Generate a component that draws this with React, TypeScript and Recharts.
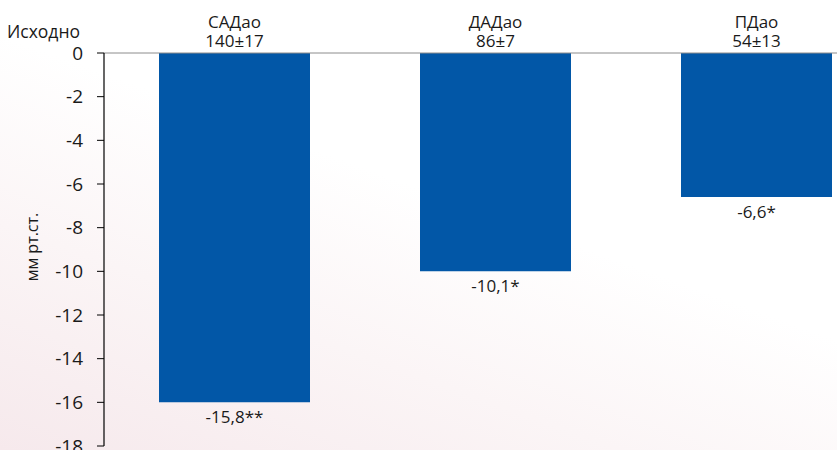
import { BarChart, Bar, XAxis, YAxis, LabelList } from "recharts";

const categories = ["САДао", "ДАДао", "ПДао"];
const baselines = ["140±17", "86±7", "54±13"];
const changes = [-16, -10, -6.6];
const changeLabels = ["-15,8**", "-10,1*", "-6,6*"];
const yTicks = [0, -2, -4, -6, -8, -10, -12, -14, -16, -18];

const data = categories.map((name, i) => ({
  name,
  value: changes[i],
  label: changeLabels[i],
}));

const FONT = "'Open Sans', sans-serif";
const INK = "#1a1a1a";

// two-line category label: name + baseline value
const TopTick = (props: any) => {
  const { x, y, payload, index } = props;
  return (
    <text x={x} y={y} textAnchor="middle" fontSize={17} fill={INK} fontFamily={FONT}>
      <tspan x={x} dy={-19}>
        {payload.value}
      </tspan>
      <tspan x={x} dy={19}>
        {baselines[index]}
      </tspan>
    </text>
  );
};

const ValueLabel = (props: any) => {
  const { x, y, width, height, index } = props;
  const bottom = Math.max(y, y + height);
  return (
    <text
      x={x + width / 2}
      y={bottom + 21}
      textAnchor="middle"
      fontSize={17}
      fill={INK}
      fontFamily={FONT}
    >
      {changeLabels[index]}
    </text>
  );
};

export default function App() {
  return (
    <div
      style={{
        position: "fixed",
        left: 0,
        top: 0,
        width: 837,
        height: 450,
        overflow: "hidden",
        background: "linear-gradient(20deg, #f6e9ec 0%, #fbf5f6 30%, #ffffff 55%)",
      }}
    >
      <div
        style={{
          position: "absolute",
          left: 7,
          top: 19,
          fontFamily: FONT,
          fontSize: 17.5,
          color: INK,
        }}
      >
        Исходно
      </div>
      <div
        style={{
          position: "absolute",
          left: 32,
          top: 247,
          transform: "translate(-50%, -50%) rotate(-90deg)",
          fontFamily: FONT,
          fontSize: 16,
          color: INK,
          whiteSpace: "nowrap",
        }}
      >
        мм рт.ст.
      </div>
      <div style={{ position: "absolute", left: 0, top: 0 }}>
        <BarChart
          width={890}
          height={450}
          data={data}
          margin={{ top: 0, right: 3, bottom: 4, left: 0 }}
        >
          <XAxis
            dataKey="name"
            orientation="top"
            height={53}
            axisLine={{ stroke: "#8c8c8c", strokeWidth: 1 }}
            tickLine={false}
            tickSize={0}
            tickMargin={6}
            interval={0}
            tick={<TopTick />}
          />
          <YAxis
            width={104}
            domain={[-18, 0]}
            ticks={yTicks}
            interval={0}
            axisLine={{ stroke: "#000", strokeWidth: 1.2 }}
            tickLine={{ stroke: "#000" }}
            tickSize={7}
            tickMargin={14}
            tick={{ fontSize: 19, fill: INK, fontFamily: FONT }}
          />
          <Bar dataKey="value" fill="#0257a7" barSize={151} isAnimationActive={false}>
            <LabelList dataKey="label" content={<ValueLabel />} />
          </Bar>
        </BarChart>
      </div>
    </div>
  );
}
